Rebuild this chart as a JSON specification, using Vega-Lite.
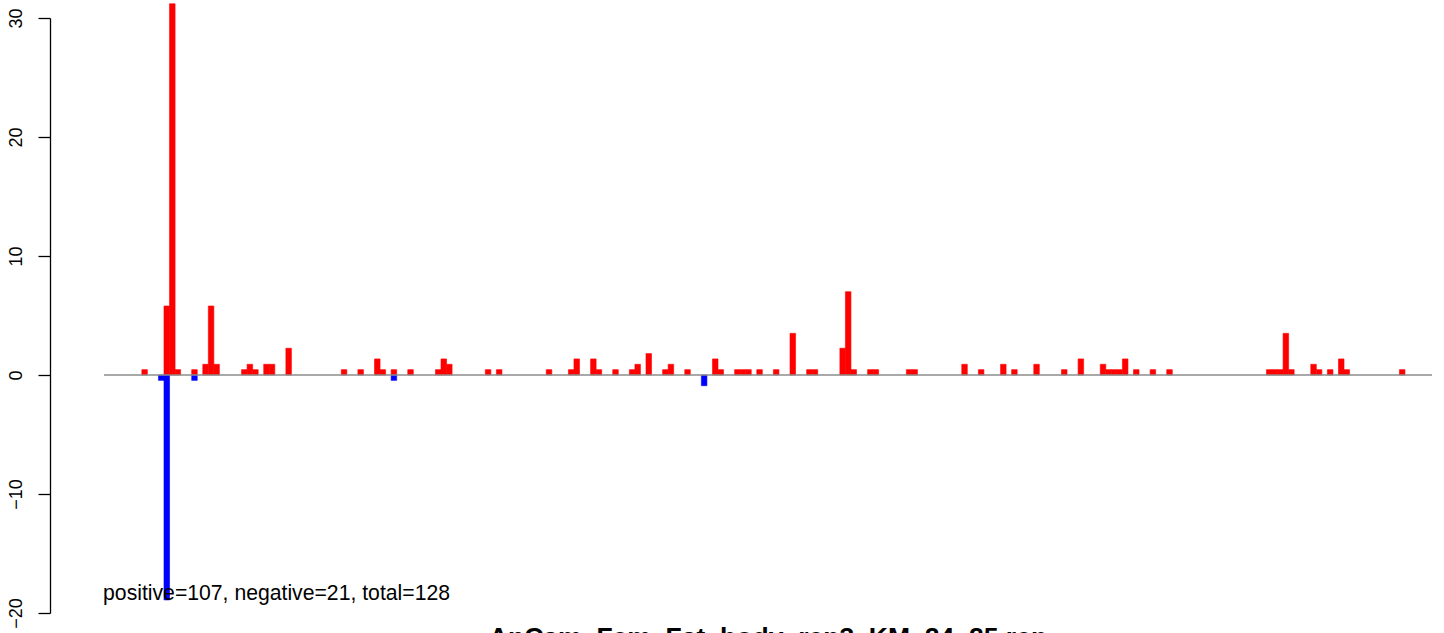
{
  "$schema": "https://vega.github.io/schema/vega-lite/v6.json",
  "autosize": {"type": "none"},
  "padding": {"left": 104, "top": 18, "right": 12, "bottom": 20},
  "width": 1328,
  "height": 595,
  "background": "white",
  "config": {
    "view": {"stroke": null},
    "font": "Liberation Sans"
  },
  "title": {
    "text": "AnCam_Fem_Fat_body_rep3_KM_24_25.rep",
    "orient": "bottom",
    "anchor": "middle",
    "frame": "group",
    "baseline": "top",
    "font": "Liberation Sans",
    "fontSize": 26.5,
    "fontWeight": "bold",
    "color": "black",
    "offset": -3
  },
  "layer": [
    {
      "data": {
        "values": [
          {"b": 7, "e": 8, "v": 0.45, "s": "pos"},
          {"b": 11, "e": 12, "v": 5.8, "s": "pos"},
          {"b": 12, "e": 13, "v": 31.2, "s": "pos"},
          {"b": 13, "e": 14, "v": 0.45, "s": "pos"},
          {"b": 16, "e": 17, "v": 0.45, "s": "pos"},
          {"b": 18, "e": 19, "v": 0.9, "s": "pos"},
          {"b": 19, "e": 20, "v": 5.8, "s": "pos"},
          {"b": 20, "e": 21, "v": 0.9, "s": "pos"},
          {"b": 25, "e": 26, "v": 0.45, "s": "pos"},
          {"b": 26, "e": 27, "v": 0.9, "s": "pos"},
          {"b": 27, "e": 28, "v": 0.45, "s": "pos"},
          {"b": 29, "e": 30, "v": 0.9, "s": "pos"},
          {"b": 30, "e": 31, "v": 0.9, "s": "pos"},
          {"b": 33, "e": 34, "v": 2.25, "s": "pos"},
          {"b": 43, "e": 44, "v": 0.45, "s": "pos"},
          {"b": 46, "e": 47, "v": 0.45, "s": "pos"},
          {"b": 49, "e": 50, "v": 1.35, "s": "pos"},
          {"b": 50, "e": 51, "v": 0.45, "s": "pos"},
          {"b": 52, "e": 53, "v": 0.45, "s": "pos"},
          {"b": 55, "e": 56, "v": 0.45, "s": "pos"},
          {"b": 60, "e": 61, "v": 0.45, "s": "pos"},
          {"b": 61, "e": 62, "v": 1.35, "s": "pos"},
          {"b": 62, "e": 63, "v": 0.9, "s": "pos"},
          {"b": 69, "e": 70, "v": 0.45, "s": "pos"},
          {"b": 71, "e": 72, "v": 0.45, "s": "pos"},
          {"b": 80, "e": 81, "v": 0.45, "s": "pos"},
          {"b": 84, "e": 85, "v": 0.45, "s": "pos"},
          {"b": 85, "e": 86, "v": 1.35, "s": "pos"},
          {"b": 88, "e": 89, "v": 1.35, "s": "pos"},
          {"b": 89, "e": 90, "v": 0.45, "s": "pos"},
          {"b": 92, "e": 93, "v": 0.45, "s": "pos"},
          {"b": 95, "e": 96, "v": 0.45, "s": "pos"},
          {"b": 96, "e": 97, "v": 0.9, "s": "pos"},
          {"b": 98, "e": 99, "v": 1.8, "s": "pos"},
          {"b": 101, "e": 102, "v": 0.45, "s": "pos"},
          {"b": 102, "e": 103, "v": 0.9, "s": "pos"},
          {"b": 105, "e": 106, "v": 0.45, "s": "pos"},
          {"b": 110, "e": 111, "v": 1.35, "s": "pos"},
          {"b": 111, "e": 112, "v": 0.45, "s": "pos"},
          {"b": 114, "e": 115, "v": 0.45, "s": "pos"},
          {"b": 115, "e": 116, "v": 0.45, "s": "pos"},
          {"b": 116, "e": 117, "v": 0.45, "s": "pos"},
          {"b": 118, "e": 119, "v": 0.45, "s": "pos"},
          {"b": 121, "e": 122, "v": 0.45, "s": "pos"},
          {"b": 124, "e": 125, "v": 3.5, "s": "pos"},
          {"b": 127, "e": 128, "v": 0.45, "s": "pos"},
          {"b": 128, "e": 129, "v": 0.45, "s": "pos"},
          {"b": 133, "e": 134, "v": 2.25, "s": "pos"},
          {"b": 134, "e": 135, "v": 7.0, "s": "pos"},
          {"b": 135, "e": 136, "v": 0.45, "s": "pos"},
          {"b": 138, "e": 139, "v": 0.45, "s": "pos"},
          {"b": 139, "e": 140, "v": 0.45, "s": "pos"},
          {"b": 145, "e": 146, "v": 0.45, "s": "pos"},
          {"b": 146, "e": 147, "v": 0.45, "s": "pos"},
          {"b": 155, "e": 156, "v": 0.9, "s": "pos"},
          {"b": 158, "e": 159, "v": 0.45, "s": "pos"},
          {"b": 162, "e": 163, "v": 0.9, "s": "pos"},
          {"b": 164, "e": 165, "v": 0.45, "s": "pos"},
          {"b": 168, "e": 169, "v": 0.9, "s": "pos"},
          {"b": 173, "e": 174, "v": 0.45, "s": "pos"},
          {"b": 176, "e": 177, "v": 1.35, "s": "pos"},
          {"b": 180, "e": 181, "v": 0.9, "s": "pos"},
          {"b": 181, "e": 182, "v": 0.45, "s": "pos"},
          {"b": 182, "e": 183, "v": 0.45, "s": "pos"},
          {"b": 183, "e": 184, "v": 0.45, "s": "pos"},
          {"b": 184, "e": 185, "v": 1.35, "s": "pos"},
          {"b": 186, "e": 187, "v": 0.45, "s": "pos"},
          {"b": 189, "e": 190, "v": 0.45, "s": "pos"},
          {"b": 192, "e": 193, "v": 0.45, "s": "pos"},
          {"b": 210, "e": 211, "v": 0.45, "s": "pos"},
          {"b": 211, "e": 212, "v": 0.45, "s": "pos"},
          {"b": 212, "e": 213, "v": 0.45, "s": "pos"},
          {"b": 213, "e": 214, "v": 3.5, "s": "pos"},
          {"b": 214, "e": 215, "v": 0.45, "s": "pos"},
          {"b": 218, "e": 219, "v": 0.9, "s": "pos"},
          {"b": 219, "e": 220, "v": 0.45, "s": "pos"},
          {"b": 221, "e": 222, "v": 0.45, "s": "pos"},
          {"b": 223, "e": 224, "v": 1.35, "s": "pos"},
          {"b": 224, "e": 225, "v": 0.45, "s": "pos"},
          {"b": 234, "e": 235, "v": 0.45, "s": "pos"},
          {"b": 10, "e": 11, "v": -0.45, "s": "neg"},
          {"b": 11, "e": 12, "v": -18.9, "s": "neg"},
          {"b": 16, "e": 17, "v": -0.45, "s": "neg"},
          {"b": 52, "e": 53, "v": -0.45, "s": "neg"},
          {"b": 108, "e": 109, "v": -0.9, "s": "neg"}
        ]
      },
      "mark": {"type": "bar", "strokeWidth": 0.6, "cornerRadius": 0},
      "encoding": {
        "x": {
          "field": "b",
          "type": "quantitative",
          "scale": {"domain": [0.17, 239.88], "nice": false, "zero": false},
          "axis": null
        },
        "x2": {"field": "e"},
        "y": {
          "field": "v",
          "type": "quantitative",
          "stack": null,
          "scale": {"domain": [-20, 30], "nice": false},
          "axis": {
            "values": [-20, -10, 0, 10, 20, 30],
            "title": null,
            "offset": 54,
            "grid": false,
            "domainColor": "black",
            "domainWidth": 1.3,
            "tickColor": "black",
            "tickWidth": 1.3,
            "tickSize": 12,
            "labelAngle": -90,
            "labelAlign": "center",
            "labelBaseline": "alphabetic",
            "labelPadding": 17,
            "labelFont": "Liberation Sans",
            "labelFontSize": 18,
            "labelColor": "black",
            "labelFlush": false,
            "labelOverlap": false
          }
        },
        "y2": {"datum": 0},
        "color": {
          "field": "s",
          "type": "nominal",
          "scale": {"domain": ["pos", "neg"], "range": ["#ff0000", "#0000ff"]},
          "legend": null
        },
        "stroke": {
          "field": "s",
          "type": "nominal",
          "scale": {"domain": ["pos", "neg"], "range": ["#ff0000", "#0000ff"]},
          "legend": null
        }
      }
    },
    {
      "data": {"values": [{"zero": 0}]},
      "mark": {"type": "rule", "color": "#8c8c8c", "strokeWidth": 1.5},
      "encoding": {
        "y": {"field": "zero", "type": "quantitative"}
      }
    },
    {
      "data": {"values": [{"x": 0, "y": -18.94, "label": "positive=107, negative=21, total=128"}]},
      "mark": {"type": "text", "align": "left", "baseline": "alphabetic", "font": "Liberation Sans", "fontSize": 21.2, "color": "black"},
      "encoding": {
        "x": {"field": "x", "type": "quantitative"},
        "y": {"field": "y", "type": "quantitative"},
        "text": {"field": "label", "type": "nominal"}
      }
    }
  ]
}
